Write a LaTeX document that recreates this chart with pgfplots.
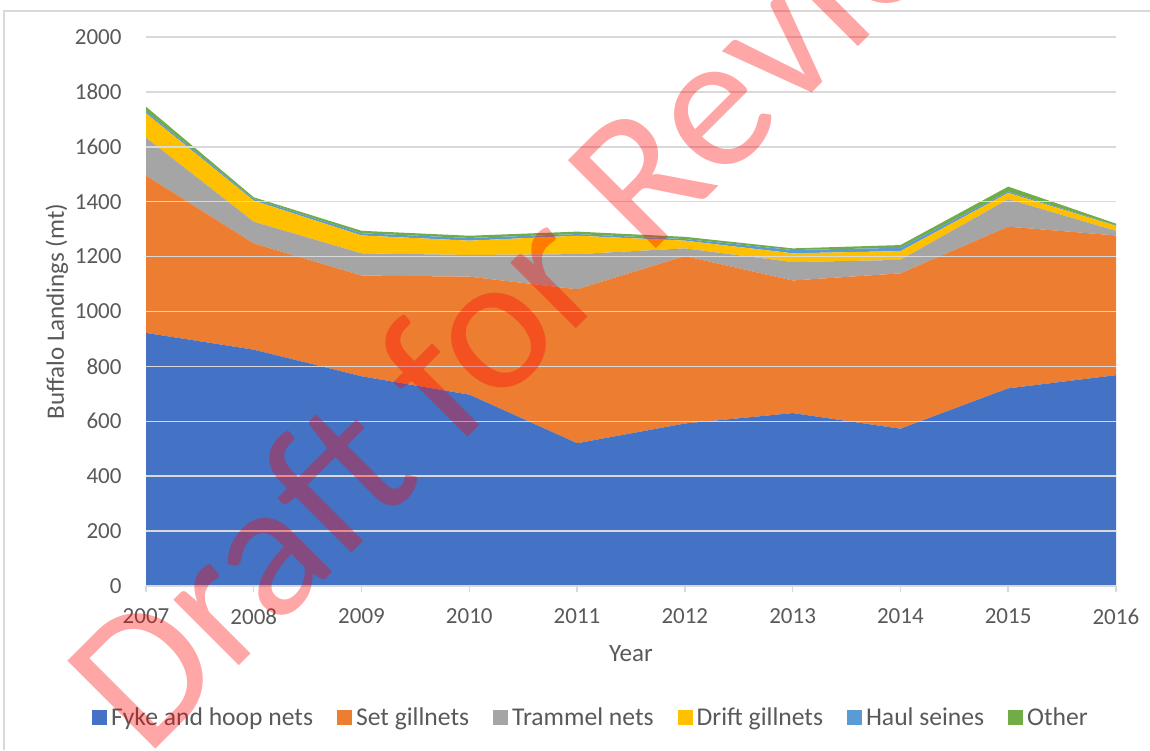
\documentclass[border=0pt]{standalone}
\usepackage{fontspec}
\setmainfont{Carlito}
\usepackage{pgfplots}
\usepackage{pgfplotstable}
\pgfplotsset{compat=1.18}

\definecolor{fykec}{HTML}{4472C4}
\definecolor{setc}{HTML}{ED7D31}
\definecolor{tramc}{HTML}{A5A5A5}
\definecolor{driftc}{HTML}{FFC000}
\definecolor{haulc}{HTML}{5B9BD5}
\definecolor{otherc}{HTML}{70AD47}
\definecolor{gridc}{HTML}{D9D9D9}
\definecolor{labc}{HTML}{595959}

% landings by gear (mt), read off the stacked areas
\pgfplotstableread{
year fyke set tram drift haul other
2007 922 573 138 89 8 16
2008 861 387 79 77 6 6
2009 764 367 81 65 8 9
2010 697 430 79 52 10 8
2011 520 561 128 67 6 9
2012 592 610 28 28 6 8
2013 630 483 67 32 12 6
2014 573 566 49 32 12 10
2015 720 589 100 23 5 18
2016 768 509 17 18 2 6
}\landings

\begin{document}
\begin{tikzpicture}
  \useasboundingbox (0,0) rectangle (575pt,375pt);
  \draw[gridc, line width=0.75pt] (2pt,0) -- (2pt,369.5pt) -- (575pt,369.5pt);
  \begin{axis}[
    at={(73pt,82pt)}, anchor=south west,
    scale only axis, width=485pt, height=274.5pt,
    xmin=2007, xmax=2016, ymin=0, ymax=2000,
    xtick={2007,...,2016}, ytick={0,200,...,2000},
    /pgf/number format/.cd, 1000 sep={}, assume math mode=true, /pgfplots/.cd,
    axis x line*=bottom, axis y line*=left,
    x axis line style={draw=gridc, line width=0.75pt, -},
    y axis line style={draw=none},
    tick align=outside, major tick length=3pt,
    xtick style={draw=gridc, line width=0.75pt},
    ytick style={draw=none},
    ymajorgrids, grid style={draw=gridc, line width=0.75pt},
    ticklabel style={font=\fontsize{11.5}{13}\selectfont, text=labc},
    xticklabel style={yshift=-4.7pt},
    yticklabel style={xshift=-5.7pt},
    xlabel={Year}, ylabel={Buffalo Landings (mt)},
    label style={font=\fontsize{12.5}{14}\selectfont, text=labc},
    xlabel style={at={(axis description cs:0.5,-0.1239)}, anchor=center},
    ylabel style={at={(axis description cs:-0.0918,0.5)}, anchor=center},
    stack plots=y, area style, no markers,
    legend columns=-1,
    legend image code/.code={\fill[#1] (0pt,-3.75pt) rectangle (7.5pt,3.75pt);},
    legend style={at={(axis description cs:0.4598,-0.2404)}, anchor=center,
      draw=none, fill=none, font=\fontsize{12.8}{14}\selectfont, text=labc,
      nodes={inner xsep=2pt},
      /tikz/every even column/.append style={column sep=10pt},
      /tikz/every odd column/.append style={column sep=0pt}},
  ]
    \addplot[fill=fykec, draw=none] table[x=year, y=fyke] {\landings} \closedcycle;
    \addplot[fill=setc, draw=none] table[x=year, y=set] {\landings} \closedcycle;
    \addplot[fill=tramc, draw=none] table[x=year, y=tram] {\landings} \closedcycle;
    \addplot[fill=driftc, draw=none] table[x=year, y=drift] {\landings} \closedcycle;
    \addplot[fill=haulc, draw=none] table[x=year, y=haul] {\landings} \closedcycle;
    \addplot[fill=otherc, draw=none] table[x=year, y=other] {\landings} \closedcycle;
    \legend{Fyke and hoop nets, Set gillnets, Trammel nets, Drift gillnets, Haul seines, Other}
  \end{axis}
  \node[rotate=45, anchor=base west, inner sep=0pt, text=red, text opacity=0.35,
        font=\fontsize{97}{97}\selectfont] at (73pt,-4.5pt) {Draft for Review};
\end{tikzpicture}
\end{document}
